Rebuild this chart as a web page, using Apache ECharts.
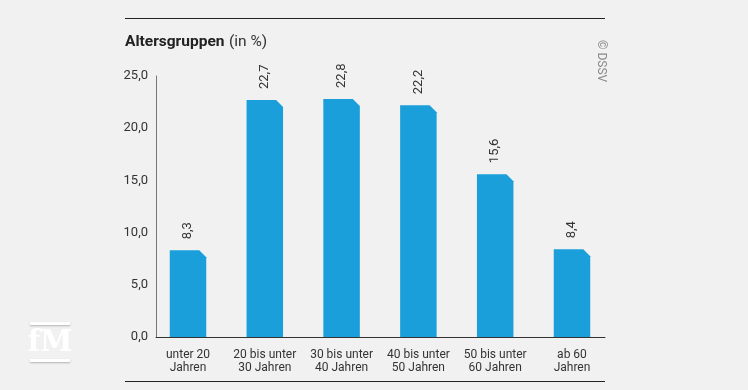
<!DOCTYPE html>
<html>
<head>
<meta charset="utf-8">
<script src="https://cdn.jsdelivr.net/npm/echarts@6/dist/echarts.min.js"></script>
<style>
html,body{margin:0;padding:0;background:#f1f1f1;}
#c{width:748px;height:390px;}
</style>
</head>
<body>
<div id="c"></div>
<script>
const categories = ['unter 20\nJahren', '20 bis unter\n30 Jahren', '30 bis unter\n40 Jahren', '40 bis unter\n50 Jahren', '50 bis unter\n60 Jahren', 'ab 60\nJahren'];
const values = [8.3, 22.7, 22.8, 22.2, 15.6, 8.4];
const yTicks = [0, 5, 10, 15, 20, 25];

const chart = echarts.init(document.getElementById('c'), null, {renderer: 'canvas'});
const FONT = 'Roboto, "Liberation Sans", Arial, sans-serif';
const fmt = v => v.toFixed(1).replace('.', ',');

chart.setOption({
  backgroundColor: '#f1f1f1',
  animation: false,
  textStyle: {fontFamily: FONT},
  title: {
    left: 125, top: 33, padding: 0,
    text: '{b|Altersgruppen} {n|(in %)}',
    textStyle: {
      rich: {
        b: {fontFamily: FONT, fontSize: 15.5, fontWeight: 'bold', color: '#222'},
        n: {fontFamily: FONT, fontSize: 15.5, fontWeight: 'normal', color: '#333'}
      }
    }
  },
  grid: {left: 156, right: 143, top: 76, bottom: 53},
  xAxis: {
    type: 'value',
    min: -0.4167, max: 5.43,
    axisLine: {show: true, onZero: false, lineStyle: {color: '#333', width: 1}},
    axisTick: {show: false},
    splitLine: {show: false},
    axisLabel: {
      customValues: [0, 1, 2, 3, 4, 5],
      formatter: v => categories[Math.round(v)] || '',
      color: '#333', fontSize: 12, lineHeight: 13, margin: 11, fontFamily: FONT
    }
  },
  yAxis: {
    type: 'value', min: 0, max: 25, interval: 5,
    axisLine: {show: true, onZero: false, lineStyle: {color: '#777', width: 1}},
    axisTick: {show: false},
    splitLine: {show: false},
    axisLabel: {formatter: v => fmt(v), color: '#333', fontSize: 13, margin: 8, fontFamily: FONT}
  },
  series: [{
    type: 'custom',
    data: values.map((v, i) => [i, v]),
    encode: {x: 0, y: 1},
    clip: false,
    renderItem: function (params, api) {
      const i = api.value(0), v = api.value(1);
      const top = api.coord([i, v]);
      const base = api.coord([i, 0]);
      const w = 36.5, c = 7;
      const x0 = top[0] - w / 2, x1 = top[0] + w / 2;
      return {
        type: 'group',
        children: [{
          type: 'polygon',
          shape: {points: [[x0, top[1]], [x1 - c, top[1]], [x1, top[1] + c], [x1, base[1]], [x0, base[1]]]},
          style: {fill: '#1a9fdb'}
        }, {
          type: 'text',
          x: top[0], y: top[1] - 11,
          rotation: Math.PI / 2,
          style: {text: fmt(v), fill: '#333', fontSize: 13, fontFamily: FONT, align: 'left', verticalAlign: 'middle'}
        }]
      };
    }
  }],
  graphic: [
    {type: 'line', shape: {x1: 125, y1: 18.5, x2: 605, y2: 18.5}, style: {stroke: '#222', lineWidth: 1}},
    {type: 'line', shape: {x1: 125, y1: 381.5, x2: 605, y2: 381.5}, style: {stroke: '#222', lineWidth: 1}},
    {type: 'text', x: 601, y: 40, rotation: -Math.PI / 2,
      style: {text: '© DSSV', fill: '#8a8a8a', fontSize: 12, fontFamily: FONT, align: 'left', verticalAlign: 'middle'}},
    {type: 'rect', shape: {x: 30, y: 322, width: 40, height: 3}, style: {fill: '#ffffff', shadowColor: 'rgba(0,0,0,0.25)', shadowBlur: 2, shadowOffsetY: 1}},
    {type: 'rect', shape: {x: 30, y: 359, width: 40, height: 3}, style: {fill: '#ffffff', shadowColor: 'rgba(0,0,0,0.25)', shadowBlur: 2, shadowOffsetY: 1}},
    {type: 'text', x: 50, y: 343,
      style: {text: 'fM', fill: '#ffffff', fontSize: 29, fontWeight: 'bold', fontFamily: '"DejaVu Serif", "Liberation Serif", serif',
        align: 'center', verticalAlign: 'middle', shadowColor: 'rgba(0,0,0,0.3)', shadowBlur: 3, shadowOffsetY: 1}}
  ]
});
</script>
</body>
</html>
